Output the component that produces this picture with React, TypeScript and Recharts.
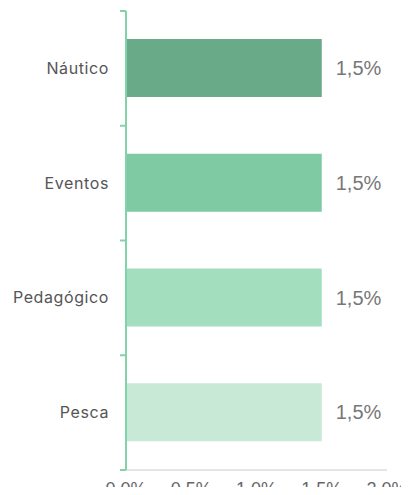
import { BarChart, Bar, XAxis, YAxis, Cell, LabelList } from 'recharts'

const categories = ['Náutico', 'Eventos', 'Pedagógico', 'Pesca']
const values = [1.5, 1.5, 1.5, 1.5]
const colors = ['#69aa88', '#7fcaa3', '#a3debf', '#c7e9d5']
const xTicks = [0, 0.5, 1, 1.5, 2]
const xTickLabels = ['0.0%', '0.5%', '1.0%', '1.5%', '2.0%']

const data = categories.map((name, i) => ({ name, value: values[i] }))

const WIDTH = 409
const HEIGHT = 495
const MARGIN = { top: 11, right: 22, bottom: 0, left: 0 }
const Y_AXIS_WIDTH = 126
const X_AXIS_HEIGHT = 25
const AXIS_GREEN = '#82d3aa'

const plotHeight = HEIGHT - MARGIN.top - MARGIN.bottom - X_AXIS_HEIGHT
const band = plotHeight / categories.length

function CategoryTick(props: any) {
  const { x, y, payload, index } = props
  const axisX = MARGIN.left + Y_AXIS_WIDTH
  return (
    <g>
      <line x1={axisX - 6} x2={axisX} y1={y - band / 2} y2={y - band / 2} stroke={AXIS_GREEN} strokeWidth={2} />
      {index === categories.length - 1 && (
        <line x1={axisX - 6} x2={axisX} y1={y + band / 2} y2={y + band / 2} stroke={AXIS_GREEN} strokeWidth={2} />
      )}
      <text
        x={x}
        y={y}
        dy="0.35em"
        textAnchor="end"
        fill="#555"
        fontSize={16}
        letterSpacing={0.6}
        fontFamily="Inter, 'Noto Sans', sans-serif"
      >
        {payload.value}
      </text>
    </g>
  )
}

export default function App() {
  return (
    <div style={{ margin: -8, width: WIDTH, height: HEIGHT, background: '#fff' }}>
      <BarChart width={WIDTH} height={HEIGHT} data={data} layout="vertical" margin={MARGIN}>
        <XAxis
          type="number"
          domain={[0, 2]}
          ticks={xTicks}
          tickFormatter={(v: number) => xTickLabels[xTicks.indexOf(v)]}
          height={X_AXIS_HEIGHT}
          tickLine={false}
          tickMargin={6}
          axisLine={{ stroke: '#cccccc' }}
          tick={{ fill: '#666', fontSize: 18, fontFamily: "'Liberation Sans', Arial, sans-serif" }}
        />
        <YAxis
          type="category"
          dataKey="name"
          width={Y_AXIS_WIDTH}
          tickLine={false}
          tickMargin={11}
          axisLine={{ stroke: AXIS_GREEN, strokeWidth: 2 }}
          tick={<CategoryTick />}
        />
        <Bar dataKey="value" barSize={58} isAnimationActive={false}>
          {data.map((_d, i) => (
            <Cell key={i} fill={colors[i]} />
          ))}
          <LabelList
            dataKey="value"
            position="right"
            offset={14}
            formatter={(v: any) => `${String(v).replace('.', ',')}%`}
            style={{ fill: '#777', fontSize: 20, fontFamily: "'Liberation Sans', Arial, sans-serif" }}
          />
        </Bar>
      </BarChart>
    </div>
  )
}
